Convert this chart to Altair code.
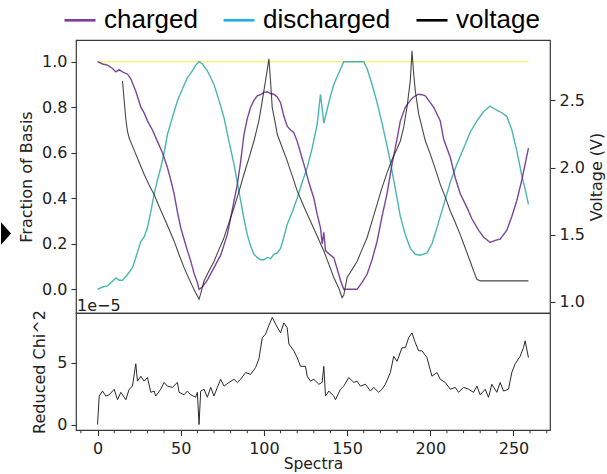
import altair as alt
import pandas as pd

# ---------------- data ----------------
CHARGED_X = [0, 3, 6, 9, 11, 13, 15, 18, 20, 23, 26, 28, 30, 33, 36, 39, 42, 44, 46, 48, 50, 52, 54, 56, 58, 60, 61,
             63, 66, 70, 74, 78, 81, 84, 86, 88, 90, 92, 94, 96, 98, 100, 102, 104, 106, 108, 110, 112, 114, 116, 118,
             120, 122, 124, 127, 130, 132, 134, 135, 136, 137, 140, 142, 144, 146, 148, 152, 156, 159, 162, 165, 168,
             171, 174, 177, 180, 182, 185, 188, 190, 193, 195, 197, 200, 202, 204, 206, 208, 210, 212, 215, 218, 222,
             225, 229, 232, 236, 239, 242, 244, 246, 249, 252, 255, 257, 259]
CHARGED_Y = [1.000, 0.990, 0.985, 0.970, 0.955, 0.965, 0.955, 0.945, 0.925, 0.870, 0.800, 0.775, 0.740, 0.700, 0.650,
             0.600, 0.535, 0.480, 0.420, 0.340, 0.270, 0.220, 0.170, 0.125, 0.070, 0.030, 0.000,
             0.010, 0.040, 0.095, 0.150, 0.240, 0.350, 0.460, 0.560, 0.680, 0.750, 0.800, 0.830, 0.850, 0.855, 0.865,
             0.868, 0.860, 0.857, 0.845, 0.820, 0.760, 0.717, 0.700, 0.688, 0.650, 0.600, 0.550, 0.470, 0.400, 0.330,
             0.270, 0.200, 0.250, 0.170, 0.150, 0.139, 0.090, 0.040, 0.000, 0.000, 0.000, 0.030, 0.066, 0.130, 0.210,
             0.320, 0.420, 0.550, 0.660, 0.740, 0.800, 0.830, 0.845, 0.857, 0.855, 0.850, 0.820, 0.800, 0.770, 0.740,
             0.660, 0.620, 0.580, 0.490, 0.420, 0.360, 0.310, 0.260, 0.230, 0.206, 0.215, 0.220, 0.240, 0.260, 0.320,
             0.390, 0.480, 0.550, 0.620]

DISCHARGED_X = [0, 3, 6, 9, 11, 13, 15, 17, 19, 21, 23, 26, 28, 30, 32, 34, 36, 38, 40, 42, 44, 46, 48, 51, 54, 57, 59,
                61, 63, 66, 70, 73, 76, 79, 82, 84, 86, 88, 90, 92, 94, 96, 98, 100, 102, 104, 106, 108, 110, 112, 114,
                117, 120, 123, 126, 129, 132, 134, 136, 138, 140, 142, 145, 148, 154, 160, 162, 165, 168, 171, 174, 176,
                179, 182, 185, 188, 191, 194, 198, 201, 204, 208, 212, 216, 220, 224, 228, 232, 236, 239, 242, 244, 246,
                249, 252, 255, 257, 259]
DISCHARGED_Y = [0.000, 0.010, 0.015, 0.035, 0.050, 0.040, 0.040, 0.055, 0.075, 0.095, 0.140, 0.210, 0.230, 0.270,
                0.340, 0.417, 0.480, 0.534, 0.600, 0.680, 0.730, 0.780, 0.827, 0.880, 0.930, 0.960, 0.985,
                1.000, 0.990, 0.960, 0.900, 0.830, 0.754, 0.650, 0.550, 0.470, 0.390, 0.310, 0.240, 0.190, 0.154,
                0.140, 0.130, 0.130, 0.140, 0.135, 0.154, 0.160, 0.180, 0.230, 0.285, 0.340, 0.400, 0.470, 0.534,
                0.620, 0.725, 0.857, 0.730, 0.790, 0.850, 0.900, 0.950, 1.000, 1.000, 1.000, 0.970, 0.900, 0.820,
                0.730, 0.630, 0.560, 0.440, 0.320, 0.240, 0.180, 0.154, 0.150, 0.160, 0.200, 0.270, 0.370, 0.470,
                0.550, 0.620, 0.690, 0.740, 0.780, 0.805, 0.790, 0.780, 0.770, 0.760, 0.700, 0.608, 0.500, 0.440,
                0.373]

TOTAL_X = [0, 259]
TOTAL_Y = [1.0, 1.0]

VOLTAGE_X = [15, 16, 17, 18, 19, 21, 23, 25, 28, 31, 34, 37, 40, 43, 46, 49, 52, 55, 58, 61,
             62, 64, 67, 70, 73, 76, 79, 82, 85, 88, 91, 94, 97, 99, 101, 103,
             104, 105, 107, 108, 111, 114, 117, 120, 124, 128, 132, 136, 139, 142, 145, 147,
             148, 150, 153, 156, 159, 162, 165, 168, 171, 174, 177, 180, 182, 184, 186, 188, 189,
             190, 191, 193, 195, 197, 200, 203, 206, 209, 212, 215, 218, 221, 224, 226, 228, 230, 240, 250, 259]
VOLTAGE_Y = [2.646, 2.500, 2.360, 2.270, 2.220, 2.160, 2.100, 2.040, 1.950, 1.870, 1.800, 1.710, 1.626, 1.540, 1.453,
             1.350, 1.254, 1.170, 1.090, 1.018,
             1.060, 1.154, 1.230, 1.300, 1.390, 1.477, 1.590, 1.700, 1.820, 1.950, 2.070, 2.198, 2.350, 2.497, 2.650,
             2.810,
             2.640, 2.447, 2.320, 2.248, 2.150, 2.050, 1.940, 1.826, 1.710, 1.600, 1.490, 1.378, 1.280, 1.180, 1.100,
             1.030,
             1.050, 1.180, 1.240, 1.300, 1.390, 1.477, 1.600, 1.726, 1.850, 1.960, 2.060, 2.140, 2.198, 2.300, 2.450,
             2.650, 2.870,
             2.700, 2.570, 2.400, 2.300, 2.200, 2.100, 1.990, 1.875, 1.780, 1.676, 1.590, 1.500, 1.400, 1.300, 1.230,
             1.167, 1.155, 1.155, 1.155, 1.155]

# reduced chi^2, in units of 1e-5
CHI_X = [0, 1, 3, 5, 7, 10, 12, 14, 17, 19, 21, 23, 24, 26, 28, 30, 32, 34, 35, 38, 40, 42, 45, 48, 49, 52, 54, 56,
         59, 60, 61, 62, 64, 66, 68, 70, 72, 74, 76, 79, 82, 84, 86, 89, 92, 95, 97, 99, 101, 103, 105, 107, 110,
         112, 114, 115, 118, 120, 122, 125, 126, 128, 130, 133, 135, 136, 137, 139, 142, 143, 146, 148, 151, 154,
         156, 158, 161, 164, 166, 169, 171, 173, 176, 178, 180, 183, 185, 187, 189, 191, 193, 195, 198, 201, 204,
         206, 209, 212, 215, 217, 220, 223, 226, 228, 230, 233, 235, 237, 240, 242, 244, 247, 249, 251, 254, 256,
         257, 259]
CHI_Y = [0.0, 2.3, 2.7, 2.3, 2.4, 2.85, 2.0, 2.6, 2.0, 2.85, 3.1, 4.9, 3.5, 3.9, 3.5, 3.8, 2.6, 2.7, 2.3, 2.85, 3.4,
         3.1, 3.0, 3.4, 2.6, 2.4, 2.7, 2.4, 2.2, 2.6, 0.0, 2.7, 2.85, 2.2, 3.0, 2.3, 3.0, 3.65, 3.1, 3.4, 3.65, 3.4,
         3.65, 4.2, 4.05, 4.6, 5.3, 7.0, 7.3, 8.0, 8.65, 8.1, 7.4, 8.2, 7.8, 6.5, 5.95, 5.4, 4.7, 4.7, 3.9, 3.5,
         3.65, 3.25, 3.4, 4.7, 2.3, 2.7, 2.3, 2.0, 2.85, 3.1, 3.8, 3.4, 3.5, 3.1, 3.25, 2.7, 3.0, 2.6, 2.85, 3.25,
         4.2, 5.5, 5.1, 6.2, 6.2, 7.0, 7.4, 6.6, 5.95, 5.95, 5.4, 3.9, 4.2, 3.65, 3.4, 2.85, 3.0, 2.6, 3.0, 2.85,
         2.6, 3.1, 2.4, 2.85, 2.2, 3.25, 2.6, 3.4, 2.7, 2.85, 4.2, 4.9, 5.5, 6.2, 6.75, 5.4]

X_TICKS = [0, 50, 100, 150, 200, 250]
X_MINOR = [-10, 10, 20, 30, 40, 60, 70, 80, 90, 110, 120, 130, 140, 160, 170, 180, 190, 210, 220, 230, 240, 260, 270]
FRAC_TICKS = [0.0, 0.2, 0.4, 0.6, 0.8, 1.0]
VOLT_TICKS = [1.0, 1.5, 2.0, 2.5]
CHI_TICKS = [0, 5]
LEGEND_NAMES = ["charged", "discharged", "voltage"]
LEGEND_COLORS = ["#7d3c9e", "#1ab2ef", "#000000"]

# ---------------- chart ----------------
FONT = "DejaVu Sans"
W, H_TOP, H_BOT = 474, 273, 117

x_scale = alt.Scale(domain=[-12.95, 271.95], nice=False, zero=False)
frac_scale = alt.Scale(domain=[-0.1041, 1.0953], nice=False, zero=False)
volt_scale = alt.Scale(domain=[0.9157, 2.951], nice=False, zero=False)
chi_scale = alt.Scale(domain=[-0.44, 9.0], nice=False, zero=False)

df_ch = pd.DataFrame({"spectrum": CHARGED_X, "fraction": CHARGED_Y})
df_dis = pd.DataFrame({"spectrum": DISCHARGED_X, "fraction": DISCHARGED_Y})
df_tot = pd.DataFrame({"spectrum": TOTAL_X, "fraction": TOTAL_Y})
df_v = pd.DataFrame({"spectrum": VOLTAGE_X, "voltage": VOLTAGE_Y})
df_chi = pd.DataFrame({"spectrum": CHI_X, "chi": CHI_Y})
df_minor = pd.DataFrame({"spectrum": X_MINOR})
df_leg = pd.DataFrame({"series": LEGEND_NAMES, "spectrum": [0, 0, 0], "fraction": [0.5, 0.5, 0.5]})
df_one = pd.DataFrame({"a": [0]})

left_axis = alt.Axis(values=FRAC_TICKS, format=".1f", title="Fraction of Basis", tickSize=5, labelPadding=4,
                     titlePadding=7)
xq = alt.X("spectrum:Q", scale=x_scale, axis=None)
yq = alt.Y("fraction:Q", scale=frac_scale, axis=left_axis)

charged = alt.Chart(df_ch).mark_line(color="#63268a", strokeWidth=1.4, opacity=0.85).encode(x=xq, y=yq)
discharged = alt.Chart(df_dis).mark_line(color="#2aa9a3", strokeWidth=1.4, opacity=0.85).encode(x=xq, y=yq)
total = alt.Chart(df_tot).mark_line(color="#fde725", strokeWidth=1.6, opacity=0.6).encode(x=xq, y=yq)

legend_layer = alt.Chart(df_leg).mark_line(opacity=0).encode(
    x=xq, y=yq,
    color=alt.Color("series:N", scale=alt.Scale(domain=LEGEND_NAMES, range=LEGEND_COLORS),
                    sort=LEGEND_NAMES,
                    legend=alt.Legend(orient="none", legendX=-15, legendY=-38.7, direction="horizontal",
                                      title=None, symbolType="stroke", symbolSize=961, symbolStrokeWidth=2.6,
                                      symbolOpacity=1,
                                      labelFont="Liberation Sans", labelFontSize=26, labelColor="#000000",
                                      labelOffset=7, columnPadding=20, padding=2, labelLimit=300)),
)

diamond = alt.Chart(df_one).mark_point(shape="M0,-1L0.9,0L0,1Z", filled=True, color="#000000", size=500,
                                       opacity=1).encode(x=alt.value(-75), y=alt.value(193.5))
anchor = alt.Chart(df_one).mark_point(shape="M-1,0L1,0L1,1L-1,1Z", filled=True, color="#ffffff", size=4,
                                      opacity=0).encode(x=alt.value(10), y=alt.value(-39))

frac_layer = alt.layer(total, discharged, charged, legend_layer, diamond, anchor)

voltage = alt.Chart(df_v).mark_line(color="#1a1a1a", strokeWidth=1.1, opacity=0.8).encode(
    x=xq,
    y=alt.Y("voltage:Q", scale=volt_scale,
            axis=alt.Axis(values=VOLT_TICKS, format=".1f", title="Voltage (V)", orient="right", tickSize=5,
                          labelPadding=4, titlePadding=4, titleAngle=270, titleBaseline="top")),
)

top = alt.layer(frac_layer, voltage).resolve_scale(y="independent").properties(width=W, height=H_TOP)

xb = alt.X("spectrum:Q", scale=x_scale,
           axis=alt.Axis(values=X_TICKS, format="d", title="Spectra", tickSize=5.5, labelPadding=5,
                         titlePadding=0, titleFontSize=15.5))
chi_line = alt.Chart(df_chi).mark_line(color="#2a2a2a", strokeWidth=1.0).encode(
    x=xb,
    y=alt.Y("chi:Q", scale=chi_scale,
            axis=alt.Axis(values=CHI_TICKS, format="d", title="Reduced Chi^2", tickSize=5, labelPadding=4,
                          titlePadding=9)),
)
minor = alt.Chart(df_minor).mark_rule(color="#333333", strokeWidth=1).encode(
    x=alt.X("spectrum:Q", scale=x_scale), y=alt.value(H_BOT), y2=alt.value(H_BOT + 3.2)
)
offset_text = alt.Chart(df_one).mark_text(text="1e\u22125", font=FONT, fontSize=16, align="left",
                                          baseline="alphabetic", color="#222222").encode(
    x=alt.value(1), y=alt.value(-2.5))

bottom = alt.layer(chi_line, minor, offset_text).properties(width=W, height=H_BOT)

chart = alt.vconcat(top, bottom, spacing=0, bounds="flush").properties(padding=0).configure(
    font=FONT
).configure_axis(
    labelFont=FONT, titleFont=FONT, labelFontSize=16, titleFontSize=16, labelColor="#222222",
    titleColor="#222222", titleFontWeight="normal", tickColor="#333333", tickWidth=1.1, domain=False, grid=False
).configure_view(stroke="#3a3a3a", strokeWidth=1.2)

chart.save("out.html", embed_options={"renderer": "svg", "actions": False})
